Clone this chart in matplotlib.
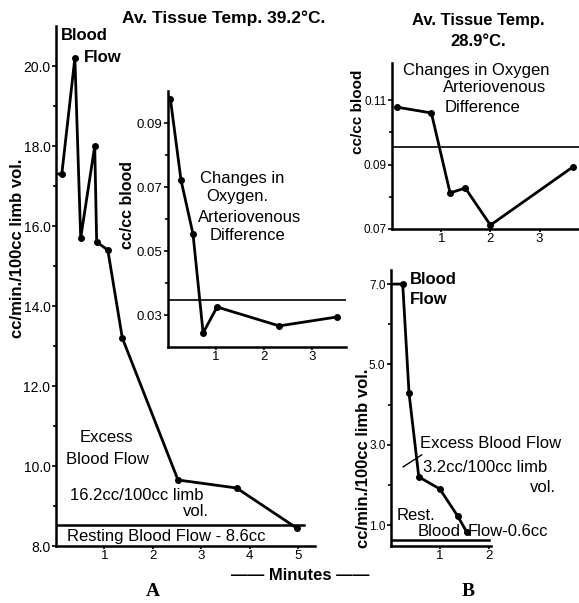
import matplotlib.pyplot as plt
import numpy as np

# A: blood flow, 39.2 C
bfA_t = [0, 0.12, 0.39, 0.51, 0.80, 0.84, 1.07, 1.37, 2.52, 3.73, 4.97]
bfA = [17.3, 17.3, 20.2, 15.7, 18.0, 15.6, 15.4, 13.2, 9.65, 9.45, 8.45]
restA = 8.52
# A inset: O2 arteriovenous difference
avA_t = [0.05, 0.27, 0.52, 0.73, 1.02, 2.31, 3.52]
avA = [0.0975, 0.0722, 0.0553, 0.0244, 0.0325, 0.0266, 0.0294]
avA_ref = 0.0347
# B: 28.9 C
avB_t = [0.1, 0.8, 1.18, 1.49, 2.0, 3.67]
avB = [0.1078, 0.106, 0.0812, 0.0827, 0.0712, 0.0892]
avB_ref = 0.0954
bfB_t = [0, 0.24, 0.37, 0.57, 1.0, 1.37, 1.55]
bfB = [7.0, 7.0, 4.28, 2.2, 1.9, 1.22, 0.83]
restB = 0.62

plt.rcParams['font.family'] = ['Liberation Sans', 'DejaVu Sans']
W, H = 579, 603
fig = plt.figure(figsize=(W / 100, H / 100), dpi=100)


def axes_px(x0, y0, x1, y1):
    ax = fig.add_axes([x0 / W, 1 - y1 / H, (x1 - x0) / W, (y1 - y0) / H])
    ax.patch.set_alpha(0)
    for s in ['top', 'right']:
        ax.spines[s].set_visible(False)
    for s in ['left', 'bottom']:
        ax.spines[s].set_linewidth(1.8)
    ax.tick_params(which='both', direction='out', width=1.2, labelsize=9.5, pad=1)
    ax.tick_params(which='major', length=3)
    ax.tick_params(which='minor', length=2)
    return ax


def txt(x, y, s, **kw):
    kw.setdefault('fontsize', 12)
    fig.text(x / W, 1 - y / H, s, **kw)


line_kw = dict(color='black', lw=2.0)
mk_kw = dict(color='black', ls='none', marker='o', ms=4)

# main A
ax = axes_px(56, 26, 315, 546)
ax.plot(bfA_t, bfA, **line_kw)
ax.plot(bfA_t[1:], bfA[1:], **mk_kw)
ax.plot([0, 5.13], [restA, restA], color='black', lw=1.8)
ax.set_xlim(0, 5.35)
ax.set_ylim(8, 21)
ax.set_yticks(np.arange(8, 21, 2))
ax.set_yticks(np.arange(9, 21, 2), minor=True)
ax.set_yticklabels(['%.1f' % v for v in np.arange(8, 21, 2)])
ax.set_xticks([1, 2, 3, 4, 5])
ax.tick_params(axis='x', length=2)
ax.tick_params(axis='y', labelsize=10)

# inset A
ax = axes_px(168, 91, 346, 347)
ax.plot(avA_t, avA, **line_kw)
ax.plot(avA_t, avA, **mk_kw)
ax.plot([0, 3.7], [avA_ref, avA_ref], color='black', lw=1.2)
ax.set_xlim(0, 3.7)
ax.set_ylim(0.02, 0.10)
ax.set_yticks([0.03, 0.05, 0.07, 0.09])
ax.set_yticks([0.04, 0.06, 0.08], minor=True)
ax.set_yticklabels(['0.03', '0.05', '0.07', '0.09'])
ax.set_xticks([1, 2, 3])
ax.tick_params(axis='x', length=2)

# B top
ax = axes_px(392, 63, 579, 229)
ax.plot(avB_t, avB, **line_kw)
ax.plot(avB_t, avB, **mk_kw)
ax.axhline(avB_ref, color='black', lw=1.2)
ax.set_xlim(0, 3.8)
ax.set_ylim(0.07, 0.1215)
ax.set_yticks([0.07, 0.09, 0.11])
ax.set_yticks([0.08, 0.10], minor=True)
ax.set_yticklabels(['0.07', '0.09', '0.11'])
ax.set_xticks([1, 2, 3])
ax.tick_params(axis='x', length=2)
ax.tick_params(axis='y', labelsize=8.5)

# B bottom
ax = axes_px(391, 270, 491, 546)
ax.plot(bfB_t, bfB, **line_kw)
ax.plot(bfB_t[1:], bfB[1:], **mk_kw)
ax.plot([0, 2.0], [restB, restB], color='black', lw=1.8)
ax.plot([0.25, 0.63], [2.45, 2.75], color='black', lw=1.0)
ax.set_xlim(0, 2.05)
ax.set_ylim(0.48, 7.35)
ax.set_yticks([1, 3, 5, 7])
ax.set_yticks([2, 4, 6], minor=True)
ax.set_yticklabels(['1.0', '3.0', '5.0', '7.0'])
ax.set_xticks([1, 2])
ax.tick_params(axis='x', length=2)
ax.tick_params(axis='y', labelsize=8.5)

# texts A
txt(224, 18, 'Av. Tissue Temp. 39.2°C.', fontweight='bold', ha='center', va='center', fontsize=12.5)
txt(84, 36, 'Blood', fontweight='bold', ha='center', va='center')
txt(103, 57, 'Flow', fontweight='bold', ha='center', va='center')
txt(18, 248, 'cc/min./100cc limb vol.', rotation=90, ha='center', va='center', fontsize=12, fontweight='bold')
txt(128, 205, 'cc/cc blood', rotation=90, ha='center', va='center', fontsize=11.5, fontweight='bold')
txt(200, 178, 'Changes in', va='center')
txt(206, 196, 'Oxygen.', va='center')
txt(198, 217, 'Arteriovenous', va='center')
txt(210, 235, 'Difference', va='center')
txt(80, 437, 'Excess', va='center')
txt(66, 459, 'Blood Flow', va='center')
txt(70, 495, '16.2cc/100cc limb', va='center')
txt(183, 512, 'vol.', va='center')
txt(67, 536, 'Resting Blood Flow - 8.6cc', va='center')
txt(300, 576, '—— Minutes ——', fontweight='bold', ha='center', va='center')
txt(153, 592, 'A', family=['Liberation Serif', 'DejaVu Serif'], fontweight='bold', fontsize=14, ha='center', va='center')

# texts B
txt(478, 20, 'Av. Tissue Temp.', fontweight='bold', ha='center', va='center')
txt(478, 42, '28.9°C.', fontweight='bold', ha='center', va='center')
txt(403, 70, 'Changes in Oxygen', va='center')
txt(443, 88, 'Arteriovenous', va='center')
txt(445, 107, 'Difference', va='center')
txt(358, 112, 'cc/cc blood', rotation=90, ha='center', va='center', fontweight='bold', fontsize=11)
txt(410, 280, 'Blood', va='center', fontweight='bold')
txt(410, 300, 'Flow', va='center', fontweight='bold')
txt(363, 458, 'cc/min./100cc limb vol.', rotation=90, ha='center', va='center', fontweight='bold')
txt(420, 444, 'Excess Blood Flow', va='center')
txt(423, 468, '3.2cc/100cc limb', va='center')
txt(530, 487, 'vol.', va='center')
txt(397, 515, 'Rest.', va='center')
txt(418, 532, 'Blood', va='center')
txt(468, 532, 'Flow-0.6cc', va='center')
txt(468, 592, 'B', family=['Liberation Serif', 'DejaVu Serif'], fontweight='bold', fontsize=14, ha='center', va='center')

fig.savefig('out.png', dpi=100)
